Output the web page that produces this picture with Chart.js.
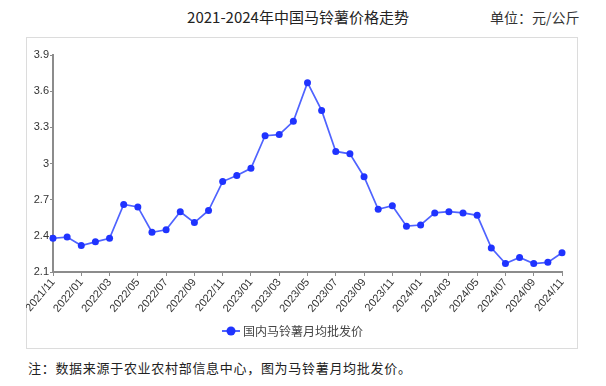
<!DOCTYPE html>
<html>
<head>
<meta charset="utf-8">
<script src="https://cdn.jsdelivr.net/npm/chart.js@4.4.1/dist/chart.umd.min.js"></script>
<style>
  html, body { margin: 0; padding: 0; background: #fff; }
  #wrap { position: relative; width: 606px; height: 386px; overflow: hidden; font-family: "Noto Sans CJK SC", sans-serif; }
  #title { position: absolute; top: 6px; left: 0; width: 596px; text-align: center; font-size: 15px; color: #222; }
  #unit { position: absolute; top: 7px; left: 490px; font-size: 14px; color: #333; }
  #box { position: absolute; left: 26px; top: 37px; width: 550px; height: 310px; border: 1px solid #dcdcdc; }
  #priceChart { position: absolute; left: 26px; top: 37px; }
  #note { position: absolute; left: 28px; top: 358px; font-size: 13px; letter-spacing: 0.7px; color: #222; }
</style>
</head>
<body>
<div id="wrap">
  <div id="title">2021-2024年中国马铃薯价格走势</div>
  <div id="unit">单位：元/公斤</div>
  <div id="box"></div>
  <canvas id="priceChart" width="551" height="311"></canvas>
  <div id="note">注：数据来源于农业农村部信息中心，图为马铃薯月均批发价。</div>
</div>
<script>
const months = [
  "2021/11", "2021/12",
  "2022/01", "2022/02", "2022/03", "2022/04", "2022/05", "2022/06",
  "2022/07", "2022/08", "2022/09", "2022/10", "2022/11", "2022/12",
  "2023/01", "2023/02", "2023/03", "2023/04", "2023/05", "2023/06",
  "2023/07", "2023/08", "2023/09", "2023/10", "2023/11", "2023/12",
  "2024/01", "2024/02", "2024/03", "2024/04", "2024/05", "2024/06",
  "2024/07", "2024/08", "2024/09", "2024/10", "2024/11"
];
const prices = [
  2.38, 2.39,
  2.32, 2.35, 2.38, 2.66, 2.64, 2.43,
  2.45, 2.60, 2.51, 2.61, 2.85, 2.90,
  2.96, 3.23, 3.24, 3.35, 3.67, 3.44,
  3.10, 3.08, 2.89, 2.62, 2.65, 2.48,
  2.49, 2.59, 2.60, 2.59, 2.57, 2.30,
  2.17, 2.22, 2.17, 2.18, 2.26
];
const seriesName = "国内马铃薯月均批发价";
const yTicks = [2.1, 2.4, 2.7, 3, 3.3, 3.6, 3.9];

const lineColor = "#4f63ff";
const dotColor = "#1f33ff";
const axisColor = "#8c8c8c";

// legend marker: short line with a dot in the middle
const marker = document.createElement("canvas");
marker.width = 18;
marker.height = 10;
const mctx = marker.getContext("2d");
mctx.strokeStyle = lineColor;
mctx.lineWidth = 2;
mctx.beginPath();
mctx.moveTo(0, 5);
mctx.lineTo(18, 5);
mctx.stroke();
mctx.fillStyle = dotColor;
mctx.beginPath();
mctx.arc(9, 5, 4.5, 0, Math.PI * 2);
mctx.fill();

new Chart(document.getElementById("priceChart"), {
  type: "line",
  data: {
    labels: months,
    datasets: [
      {
        label: seriesName,
        data: prices,
        borderColor: lineColor,
        backgroundColor: dotColor,
        borderWidth: 1.7,
        pointRadius: 3.5,
        pointBorderWidth: 0,
        pointBackgroundColor: dotColor,
        pointStyle: "circle",
        tension: 0,
      },
    ],
  },
  options: {
    responsive: false,
    animation: false,
    layout: { padding: { top: 18, right: 15, bottom: 1, left: 0 } },
    plugins: {
      tooltip: { enabled: false },
      legend: {
        position: "bottom",
        labels: {
          usePointStyle: true,
          pointStyle: marker,
          color: "#444",
          font: { family: "Noto Sans CJK SC", size: 12 },
          padding: 10,
        },
      },
    },
    scales: {
      x: {
        offset: false,
        afterFit: s => { s.height = 43; },
        border: { color: axisColor, width: 2 },
        grid: {
          drawOnChartArea: false,
          drawTicks: true,
          tickLength: 4,
          color: ctx => (ctx.index % 2 === 0 ? axisColor : "rgba(0,0,0,0)"),
        },
        ticks: {
          autoSkip: false,
          maxRotation: 50,
          minRotation: 50,
          padding: 0,
          color: "#333",
          font: { family: "Liberation Sans", size: 11 },
          callback: (v, i) => (i % 2 === 0 ? months[i] : ""),
        },
      },
      y: {
        min: 2.1,
        max: 3.9,
        afterFit: s => { s.width = 27; },
        afterBuildTicks: s => { s.ticks = yTicks.map(v => ({ value: v })); },
        border: { color: axisColor, width: 2 },
        grid: { drawOnChartArea: false, drawTicks: true, tickLength: 3, color: axisColor },
        ticks: {
          padding: 1,
          color: "#333",
          font: { family: "Liberation Sans", size: 11 },
          callback: v => String(Math.round(v * 10) / 10),
        },
      },
    },
  },
});
</script>
</body>
</html>
